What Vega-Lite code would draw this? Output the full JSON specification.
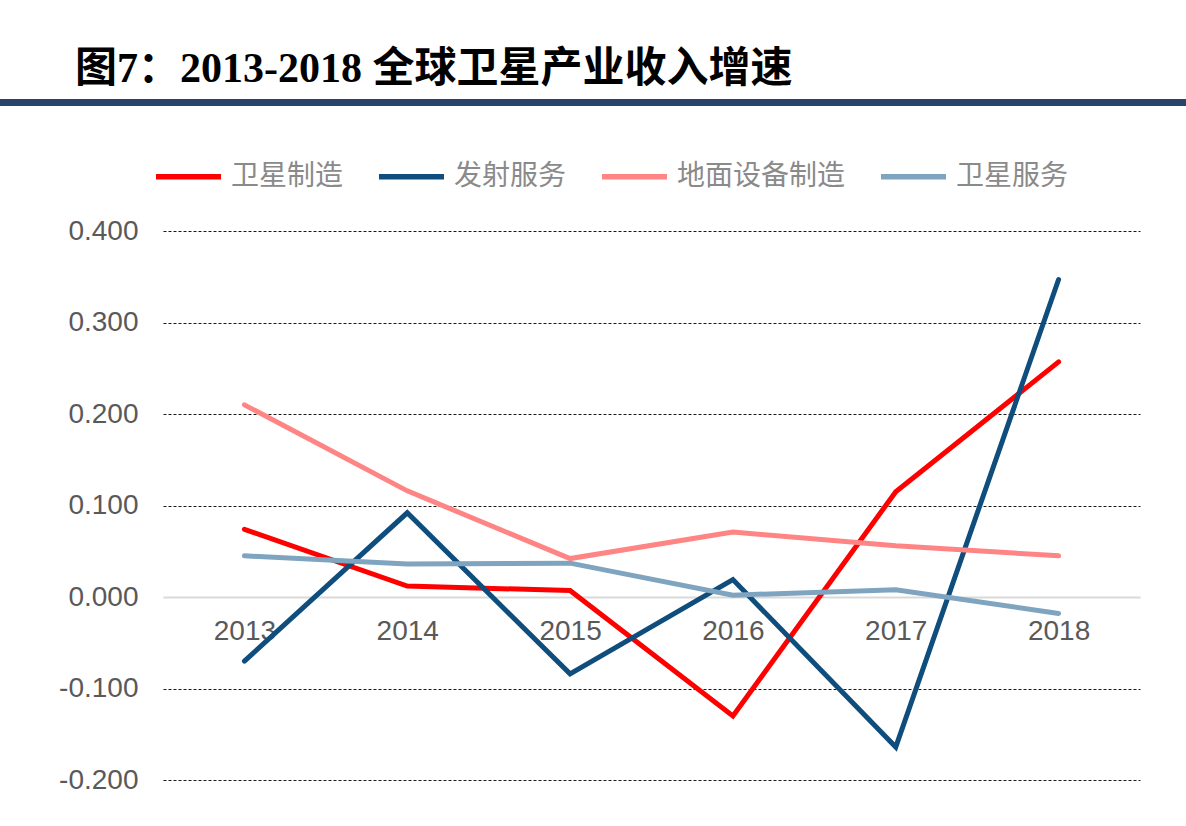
{
  "$schema": "https://vega.github.io/schema/vega-lite/v6.json",
  "padding": {"left": 0, "right": 0, "top": 48, "bottom": 0},
  "title": {
    "text": "图7：2013-2018 全球卫星产业收入增速",
    "anchor": "start",
    "dx": 75,
    "offset": 8,
    "font": "Liberation Serif, Noto Sans CJK SC",
    "fontSize": 42,
    "fontWeight": "bold",
    "color": "#000000"
  },
  "spacing": 35,
  "resolve": {"legend": {"color": "independent"}, "scale": {"color": "independent"}},
  "vconcat": [
    {
      "width": 1186,
      "height": 7,
      "data": {"values": [{"v": 0.5}]},
      "mark": {"type": "rule", "color": "#27456b", "strokeWidth": 7, "clip": true},
      "encoding": {
        "y": {"field": "v", "type": "quantitative", "scale": {"domain": [0, 1]}, "axis": null}
      }
    },
    {
      "spacing": 0,
      "resolve": {"legend": {"color": "independent"}, "scale": {"color": "independent"}},
      "hconcat": [
        {
          "width": 1,
          "height": 549,
          "data": {"values": []},
          "mark": "point"
        },
        {
          "width": 977,
          "height": 549,
          "data": {
            "values": [
              {"year": "2013", "series": "卫星制造", "value": 0.074},
              {"year": "2014", "series": "卫星制造", "value": 0.012},
              {"year": "2015", "series": "卫星制造", "value": 0.007},
              {"year": "2016", "series": "卫星制造", "value": -0.130},
              {"year": "2017", "series": "卫星制造", "value": 0.115},
              {"year": "2018", "series": "卫星制造", "value": 0.257},
              {"year": "2013", "series": "发射服务", "value": -0.070},
              {"year": "2014", "series": "发射服务", "value": 0.092},
              {"year": "2015", "series": "发射服务", "value": -0.084},
              {"year": "2016", "series": "发射服务", "value": 0.019},
              {"year": "2017", "series": "发射服务", "value": -0.164},
              {"year": "2018", "series": "发射服务", "value": 0.347},
              {"year": "2013", "series": "地面设备制造", "value": 0.210},
              {"year": "2014", "series": "地面设备制造", "value": 0.116},
              {"year": "2015", "series": "地面设备制造", "value": 0.042},
              {"year": "2016", "series": "地面设备制造", "value": 0.071},
              {"year": "2017", "series": "地面设备制造", "value": 0.056},
              {"year": "2018", "series": "地面设备制造", "value": 0.045},
              {"year": "2013", "series": "卫星服务", "value": 0.045},
              {"year": "2014", "series": "卫星服务", "value": 0.036},
              {"year": "2015", "series": "卫星服务", "value": 0.037},
              {"year": "2016", "series": "卫星服务", "value": 0.002},
              {"year": "2017", "series": "卫星服务", "value": 0.008},
              {"year": "2018", "series": "卫星服务", "value": -0.018}
            ]
          },
          "mark": {"type": "line", "strokeWidth": 5, "strokeCap": "round", "strokeJoin": "miter"},
          "encoding": {
            "x": {
              "field": "year",
              "type": "ordinal",
              "scale": {"type": "point", "padding": 0.5},
              "axis": {
                "title": null,
                "labelAngle": 0,
                "offset": -183,
                "ticks": false,
                "domainColor": "#d9d9d9",
                "domainWidth": 2,
                "labelPadding": 20,
                "labelFont": "Liberation Sans",
                "labelFontSize": 28,
                "labelColor": "#595959"
              }
            },
            "y": {
              "field": "value",
              "type": "quantitative",
              "scale": {"domain": [-0.2, 0.4], "nice": false, "zero": false},
              "axis": {
                "title": null,
                "values": [-0.2, -0.1, 0, 0.1, 0.2, 0.3, 0.4],
                "labelExpr": "replace(format(datum.value, '.3f'), '\u2212', '-')",
                "domain": false,
                "ticks": false,
                "labelPadding": 25,
                "minExtent": 162,
                "maxExtent": 200,
                "labelFont": "Liberation Sans",
                "labelFontSize": 28,
                "labelColor": "#595959",
                "gridColor": "#000000",
                "gridWidth": 1,
                "gridDash": [3, 2],
                "gridOpacity": {"condition": {"test": "abs(datum.value) < 1e-9", "value": 0}, "value": 0.9}
              }
            },
            "color": {
              "field": "series",
              "type": "nominal",
              "sort": ["卫星制造", "发射服务", "地面设备制造", "卫星服务"],
              "scale": {
                "domain": ["卫星制造", "发射服务", "地面设备制造", "卫星服务"],
                "range": ["#ff0000", "#0f4d7c", "#ff8585", "#7fa4c0"]
              },
              "legend": {
                "title": null,
                "orient": "none",
                "direction": "horizontal",
                "legendX": -10,
                "legendY": -90,
                "symbolType": "stroke",
                "symbolSize": 4225,
                "symbolStrokeWidth": 5.5,
                "labelOffset": 7,
                "columnPadding": 24,
                "labelFont": "Noto Sans CJK SC",
                "labelFontSize": 28,
                "labelColor": "#8a8a8a",
                "labelLimit": 400
              }
            }
          }
        }
      ]
    }
  ],
  "config": {
    "view": {"stroke": null}
  }
}
